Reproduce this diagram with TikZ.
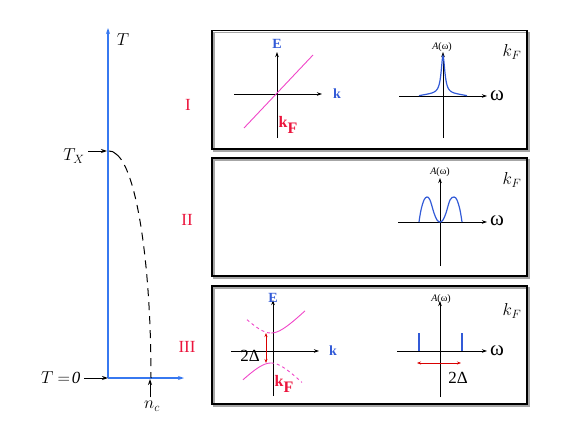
\documentclass[tikz,border=0pt]{standalone}
\usepackage{fontspec}
\setmainfont{Liberation Serif}
\usepackage{tikz}
\usetikzlibrary{arrows.meta, positioning, calc}
\definecolor{axisblue}{RGB}{55,120,240}
\definecolor{curveblue}{RGB}{50,90,215}
\definecolor{numred}{RGB}{235,20,60}
\definecolor{bandpink}{RGB}{240,70,200}
\tikzset{
    panel/.style={rectangle, draw=black, line width=1.5pt, minimum width=315pt, minimum height=118pt, anchor=north west},
    panel_shade/.style={rectangle, draw=black!35, line width=1.5pt, minimum width=315pt, minimum height=118pt, anchor=north west},
    axis/.style={-{Stealth[length=5pt,width=3.5pt]}, line width=0.8pt},
    tempaxis/.style={-{Stealth[length=6pt,width=4pt]}, axisblue, line width=1.6pt},
    pointer/.style={-{Stealth[length=6pt,width=4pt]}, line width=1pt},
    phase/.style={text=numred, font=\fontsize{17}{17}\selectfont},
    band/.style={bandpink, line width=0.9pt},
    spectral/.style={curveblue, line width=1.2pt},
    gaparrow/.style={{Stealth[length=4pt,width=3pt]}-{Stealth[length=4pt,width=3pt]}, red!85!black, line width=0.9pt},
    axlabel/.style={text=curveblue, font=\bfseries\fontsize{14}{14}\selectfont},
    kflabel/.style={text=numred, font=\bfseries\fontsize{16}{16}\selectfont},
    alabel/.style={font=\fontsize{10}{10}\selectfont},
    omega/.style={font=\fontsize{21}{21}\selectfont},
    big/.style={font=\fontsize{17}{17}\selectfont}
}

\begin{document}
\begin{tikzpicture}[x=1pt, y=-1pt]
    \useasboundingbox (0,0) rectangle (581,436);

    % Phase diagram
    \coordinate (origin) at (108,378);
    \coordinate (ttop) at (108,28);
    \coordinate (nend) at (184,378);
    \coordinate (txpt) at (107,151);
    \coordinate (ncpt) at (150,379);
    \draw [tempaxis] (origin) -- (ttop);
    \draw [tempaxis] (origin) -- (nend);
    \node (tlabel) [big] at (123,40) {$T$};
    \node (tx) [big] at (74,156) {$T_X$};
    \node (tzero) [big, anchor=east] at (84,378) {$T$ $=\!\mathit{0}$};
    \node (nc) [big] at (152,406) {$n_c$};
    \draw [pointer] (tx.east |- txpt) -- (txpt);
    \draw [pointer] (tzero.east) -- (origin);
    \draw [pointer] (nc.north -| ncpt) -- (ncpt);
    \draw [line width=1pt] (109,151) .. controls (112,151) and (114,152) .. (116,154);
    \draw [line width=1pt, dash pattern=on 8pt off 6pt] (116,154) .. controls (136,168) and (151,260) .. (151,378);

    \node (one) [phase] at (188,105) {I};
    \node (two) [phase] at (187,220) {II};
    \node (three) [phase] at (187,347) {III};

    % Panels
    \node (shadeI) [panel_shade] at (213,32) {};
    \node (shadeII) [panel_shade] at (213,159) {};
    \node (shadeIII) [panel_shade] at (213,287) {};
    \node (panelI) [panel] at (211,30) {};
    \node (panelII) [panel] at (211,157) {};
    \node (panelIII) [panel] at (211,285) {};

    % Panel I: dispersion
    \draw [axis] (277,138) -- (277,52);
    \draw [axis] (234,94) -- (322,94);
    \node (eI) [axlabel] at (277,44) {E};
    \node (kI) [axlabel] at (337,94) {k};
    \draw [band] (244,128) -- (313,55);
    \node (kfI) [kflabel] at (288,125) {k\raisebox{-6pt}{F}};

    % Panel I: spectral function
    \draw [axis] (443,138) -- (443,52);
    \draw [axis] (399,96) -- (487,96);
    \node (aI) [alabel] at (442,47) {\textit{A}(ω)};
    \node (wI) [omega] at (497,96) {ω};
    \node (kfnI) [big] at (512,52) {$k_F$};
    \draw [spectral] plot[domain=-24:24, samples=121] ({443+\x}, {96-2*(1-(\x/24)^2)-38*5/(\x*\x+5)});

    % Panel II: spectral function
    \draw [axis] (440,266) -- (440,178);
    \draw [axis] (398,222) -- (487,222);
    \node (aII) [alabel] at (440,172) {\textit{A}(ω)};
    \node (wII) [omega] at (497,221) {ω};
    \node (kfnII) [big] at (512,180) {$k_F$};
    \draw [spectral] plot[smooth, tension=0.6] coordinates {(419,222) (421,210) (424,200) (427,197) (430,200) (434,213) (437,220) (440,222) (443,220) (446,213) (450,200) (454,197) (457,200) (460,210) (462,222)};

    % Panel III: gapped dispersion
    \draw [axis] (273,396) -- (273,300);
    \draw [axis] (231,351) -- (319,351);
    \node (eIII) [axlabel] at (273,298) {E};
    \node (kIII) [axlabel] at (333,351) {k};
    \draw [band, dashed] plot[domain=-24:0, samples=40] ({271+\x}, {348-sqrt(\x*\x+225)});
    \draw [band] plot[domain=0:34, samples=40] ({271+\x}, {348-sqrt(\x*\x+225)});
    \draw [band] plot[domain=-28:0, samples=40] ({271+\x}, {348+sqrt(\x*\x+225)});
    \draw [band, dashed] plot[domain=0:31, samples=40] ({271+\x}, {348+sqrt(\x*\x+225)});
    \coordinate (gaptop) at (266,333);
    \coordinate (gapbot) at (266,363);
    \draw [gaparrow] (gapbot) -- (gaptop);
    \node (gapIII) [big] at (250,356) {2Δ};
    \node (kfIII) [kflabel] at (284,384) {k\raisebox{-6pt}{F}};

    % Panel III: spectral function
    \draw [axis] (440,397) -- (440,301);
    \draw [axis] (397,351) -- (487,351);
    \node (aIII) [alabel] at (441,299) {\textit{A}(ω)};
    \node (wIII) [omega] at (497,351) {ω};
    \node (kfnIII) [big] at (512,311) {$k_F$};
    \draw [curveblue, line width=2.5pt] (419,333) -- (419,351);
    \draw [curveblue, line width=2.5pt] (462,333) -- (462,351);
    \coordinate (gapl) at (417,363);
    \coordinate (gapr) at (461,363);
    \draw [gaparrow] (gapl) -- (gapr);
    \node (gapA) [big] at (458,378) {2Δ};
\end{tikzpicture}
\end{document}
